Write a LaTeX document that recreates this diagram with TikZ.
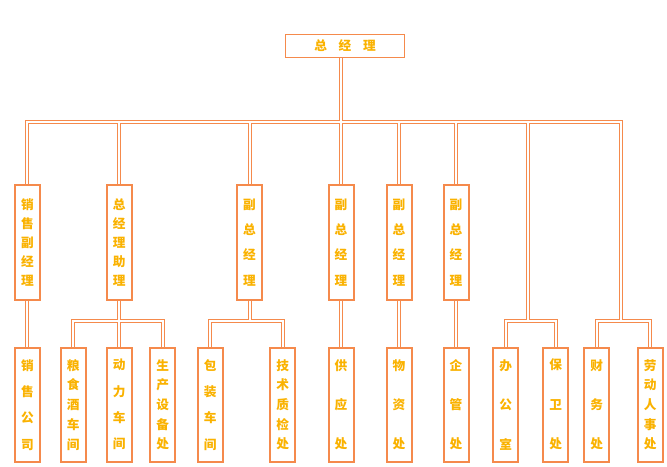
\documentclass[tikz,border=0pt]{standalone}
\usepackage{fontspec}
\newfontfamily\cjk{Noto Sans CJK SC}
\usetikzlibrary{backgrounds}
\definecolor{lineor}{RGB}{245,138,76}
\definecolor{txtor}{RGB}{250,178,0}
\begin{document}
\begin{tikzpicture}[x=0.75pt,y=-0.75pt,
  box/.style={draw=lineor, line width=1.5pt, fill=white, inner sep=0pt,
    minimum width=18.75pt, text=txtor, align=center},
  rtwo/.style={box, minimum height=86pt},
  rthree/.style={box, minimum height=85.5pt},
  ftwofive/.style={font=\cjk\bfseries\fontsize{9.5pt}{14.25pt}\selectfont},
  ftwofour/.style={font=\cjk\bfseries\fontsize{9.5pt}{19pt}\selectfont},
  fthreefive/.style={font=\cjk\bfseries\fontsize{9.5pt}{14.8pt}\selectfont},
  fthreefour/.style={font=\cjk\bfseries\fontsize{9.5pt}{19.75pt}\selectfont},
  fthreethree/.style={font=\cjk\bfseries\fontsize{9.5pt}{29.6pt}\selectfont},
  topbox/.style={draw=lineor, line width=1pt, fill=white, inner sep=0pt,
    minimum width=89.25pt, minimum height=17.25pt, text=txtor,
    font=\cjk\bfseries\fontsize{9.5pt}{11pt}\selectfont},
  connout/.style={draw=lineor, line width=3pt},
  connin/.style={draw=white, line width=1.5pt}
]
\useasboundingbox (0,0) rectangle (667,467);

% top
\node[topbox] (T) at (345,46) {总\hspace{8.8pt}经\hspace{8.8pt}理\hspace{4.5pt}};

% row 2
\node[rtwo, ftwofive] (b1) at (27.4,242.3) {销\\售\\副\\经\\理};
\node[rtwo, ftwofive] (b2) at (119.3,242.3) {总\\经\\理\\助\\理};
\node[rtwo, ftwofour] (b3) at (249.5,242.3) {副\\总\\经\\理};
\node[rtwo, ftwofour] (b4) at (341,242.3) {副\\总\\经\\理};
\node[rtwo, ftwofour] (b5) at (399,242.3) {副\\总\\经\\理};
\node[rtwo, ftwofour] (b6) at (456,242.3) {副\\总\\经\\理};

% row 3
\node[rthree, fthreefour] (c1) at (27.4,404.7) {销\\售\\公\\司};
\node[rthree, fthreefive] (c2) at (73.3,404.7) {粮\\食\\酒\\车\\间};
\node[rthree, fthreefour] (c3) at (119.3,404.7) {动\\力\\车\\间};
\node[rthree, fthreefive] (c4) at (162.6,404.7) {生\\产\\设\\备\\处};
\node[rthree, fthreefour] (c5) at (210.3,404.7) {包\\装\\车\\间};
\node[rthree, fthreefive] (c6) at (282.7,404.7) {技\\术\\质\\检\\处};
\node[rthree, fthreethree] (c7) at (341,404.7) {供\\应\\处};
\node[rthree, fthreethree] (c8) at (399,404.7) {物\\资\\处};
\node[rthree, fthreethree] (c9) at (456,404.7) {企\\管\\处};
\node[rthree, fthreethree] (c10) at (505.7,404.7) {办\\公\\室};
\node[rthree, fthreethree] (c11) at (555.7,404.7) {保\\卫\\处};
\node[rthree, fthreethree] (c12) at (596.7,404.7) {财\\务\\处};
\node[rthree, fthreefive] (c13) at (650.3,404.7) {劳\\动\\人\\事\\处};

% junctions
\coordinate (jr) at (620.8,121.8);
\coordinate (jrb) at (620.8,321);
\coordinate (jm) at (527.8,121.8);
\coordinate (jmb) at (527.8,321);
\coordinate (j2) at (119.3,321);
\coordinate (j3) at (249.5,321);

\begin{scope}[on background layer]
\foreach \s in {connout,connin}{
  \draw[\s] (b1.north) |- (jr) -- (jrb);
  \draw[\s] (T.south -| b4.north) -- (b4.north);
  \draw[\s] (b2.north |- jr) -- (b2.north);
  \draw[\s] (b3.north |- jr) -- (b3.north);
  \draw[\s] (b5.north |- jr) -- (b5.north);
  \draw[\s] (b6.north |- jr) -- (b6.north);
  \draw[\s] (jm) -- (jmb);
  \draw[\s] (c10.north) |- (jmb) -| (c11.north);
  \draw[\s] (c12.north) |- (jrb) -| (c13.north);
  \draw[\s] (b1.south) -- (c1.north);
  \draw[\s] (b2.south) -- (c3.north);
  \draw[\s] (c2.north) |- (j2) -| (c4.north);
  \draw[\s] (b3.south) -- (j3);
  \draw[\s] (c5.north) |- (j3) -| (c6.north);
  \draw[\s] (b4.south) -- (c7.north);
  \draw[\s] (b5.south) -- (c8.north);
  \draw[\s] (b6.south) -- (c9.north);
}
\end{scope}
\end{tikzpicture}
\end{document}
